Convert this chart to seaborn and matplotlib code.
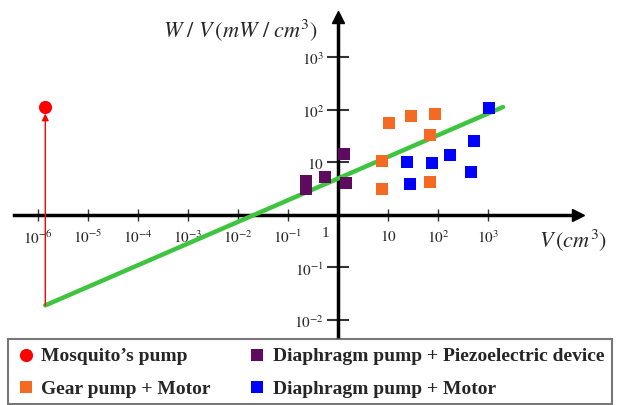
import matplotlib
matplotlib.use("Agg")
import matplotlib.pyplot as plt
import seaborn as sns

# values: V in cm^3, W/V in mW/cm^3
mosquito_v = [1.4e-6]
mosquito_wv = [114]

piezo_v = [0.23, 0.23, 0.54, 1.3, 1.47]
piezo_wv = [4.4, 3.1, 5.2, 14.7, 4.1]

gear_v = [7.6, 7.6, 10.7, 29, 88, 70, 69]
gear_wv = [10.5, 3.1, 57, 76, 83, 34, 4.2]

motor_v = [24.4, 27, 76, 172, 450, 525, 1050]
motor_wv = [10.3, 3.9, 9.6, 14, 6.5, 26, 110]

# green trend line
trend_v = [1.4e-6, 2000]
trend_wv = [0.019, 114]

x_ticks = [1e-6, 1e-5, 1e-4, 1e-3, 1e-2, 1e-1, 10, 100, 1000]
x_labels = [r"$10^{-6}$", r"$10^{-5}$", r"$10^{-4}$", r"$10^{-3}$", r"$10^{-2}$",
            r"$10^{-1}$", r"$10$", r"$10^{2}$", r"$10^{3}$"]
y_ticks = [1e-2, 1e-1, 10, 100, 1000]
y_labels = [r"$10^{-2}$", r"$10^{-1}$", r"$10$", r"$10^{2}$", r"$10^{3}$"]

sns.set_style("white")
plt.rcParams["font.family"] = ["Liberation Serif", "DejaVu Serif"]
plt.rcParams["mathtext.fontset"] = "stix"

fig = plt.figure(figsize=(6.2, 4.06), dpi=100)
ax = fig.add_axes([14 / 620, 68 / 406, 564 / 620, 320 / 406])
ax.set_xscale("log")
ax.set_yscale("log")

sns.lineplot(x=trend_v, y=trend_wv, color="#3ec43e", linewidth=3.2, ax=ax, zorder=3)

sns.scatterplot(x=mosquito_v, y=mosquito_wv, color="red", marker="o", s=90,
                linewidth=0, label="Mosquito\u2019s pump", ax=ax, zorder=4)
sns.scatterplot(x=piezo_v, y=piezo_wv, color="#5e0a5e", marker="s", s=75,
                linewidth=0, label="Diaphragm pump + Piezoelectric device", ax=ax, zorder=4)
sns.scatterplot(x=gear_v, y=gear_wv, color="#f56a22", marker="s", s=75,
                linewidth=0, label="Gear pump + Motor", ax=ax, zorder=4)
sns.scatterplot(x=motor_v, y=motor_wv, color="#0000ff", marker="s", s=75,
                linewidth=0, label="Diaphragm pump + Motor", ax=ax, zorder=4)

# red arrow up to the mosquito point
ax.annotate("", xy=(mosquito_v[0], mosquito_wv[0] * 0.75),
            xytext=(mosquito_v[0], trend_wv[0]),
            arrowprops=dict(arrowstyle="-|>", color="red", lw=1,
                            mutation_scale=10, shrinkA=0, shrinkB=0))

# axes crossing at (1, 1)
for side in ["top", "right"]:
    ax.spines[side].set_visible(False)
for side in ["left", "bottom"]:
    ax.spines[side].set_position(("data", 1))
    ax.spines[side].set_linewidth(2.5)
    ax.spines[side].set_color("black")

ax.plot(1, 1, marker=">", color="black", ms=8, transform=ax.get_yaxis_transform(), clip_on=False)
ax.plot(1, 1, marker="^", color="black", ms=8, transform=ax.get_xaxis_transform(), clip_on=False)

ax.minorticks_off()
ax.set_xticks(x_ticks)
ax.set_xticklabels(x_labels)
ax.set_yticks(y_ticks)
ax.set_yticklabels(y_labels)
ax.tick_params(axis="x", bottom=True, direction="inout", length=9, width=1, color="#333333",
               pad=5, labelsize=11)
ax.tick_params(axis="y", left=True, direction="inout", length=16, width=1.5, color="#333333",
               pad=2, labelsize=11)
ax.annotate("1", xy=(1, 1), xytext=(-13, -11), textcoords="offset pixels",
            ha="center", va="top", fontsize=11)

ax.set_xlim(10 ** -6.48, 10 ** 4.8)
ax.set_ylim(10 ** -2.324, 10 ** 3.771)

fig.text(240 / 620, 1 - 30 / 406, r"$W\ /\ V\,(mW\ /\ cm^3)$", ha="center", va="center", fontsize=16)
fig.text(573 / 620, 1 - 240 / 406, r"$V\,(cm^3)$", ha="center", va="center", fontsize=16)

if ax.get_legend() is not None:
    ax.get_legend().remove()
handles, labels = ax.get_legend_handles_labels()
order = [0, 2, 1, 3]
leg = fig.legend([handles[i] for i in order], [labels[i] for i in order],
                 loc="upper left", bbox_to_anchor=(8 / 620, 0, 604 / 620, 1 - 340 / 406),
                 mode="expand", ncol=2, frameon=True, fancybox=False, edgecolor="#555555",
                 prop={"family": "Liberation Serif", "weight": "bold", "size": 14},
                 handletextpad=0.3, labelspacing=0.75, borderpad=0.4, handlelength=1,
                 borderaxespad=0)
leg.get_frame().set_linewidth(1.5)

fig.savefig("out.png", dpi=100)
